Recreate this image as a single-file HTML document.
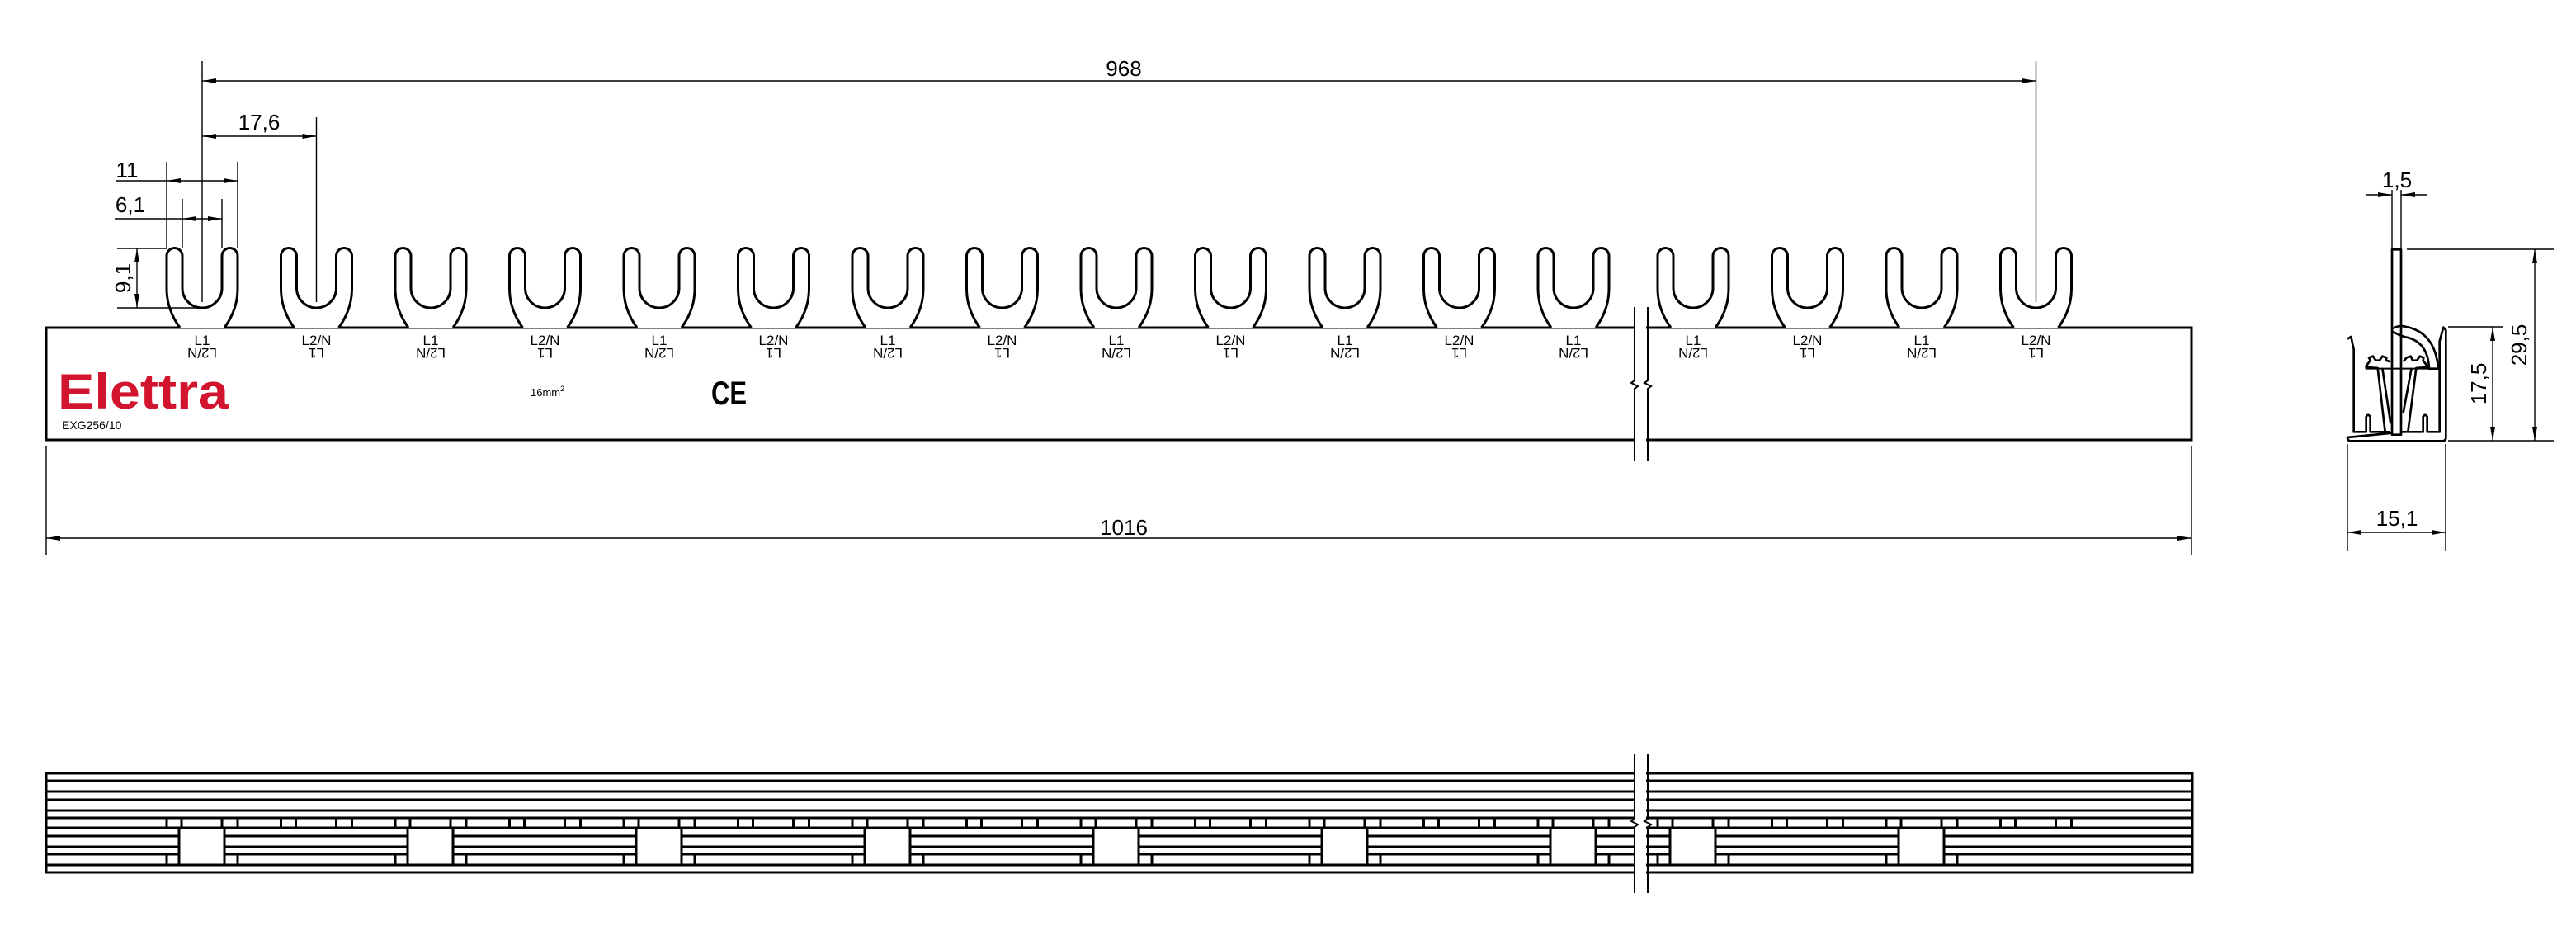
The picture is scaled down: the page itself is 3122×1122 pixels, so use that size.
<!DOCTYPE html>
<html><head><meta charset="utf-8"><style>
html,body{margin:0;padding:0;background:#fff;}
svg{display:block;}
text{font-family:"Liberation Sans",sans-serif;fill:#000;}
</style></head><body>
<svg width="3122" height="1122" viewBox="0 0 3122 1122" xmlns="http://www.w3.org/2000/svg">
<defs>
<marker id="ar" markerUnits="userSpaceOnUse" markerWidth="18" markerHeight="8" refX="17" refY="3" orient="auto-start-reverse"><path d="M0,0 L17,3 L0,6 z" fill="#000"/></marker>
<path id="fork" d="M-27,397 Q-43,375 -43,350 L-43,310 A9.5 9.5 0 0 1 -24,310 L-24,349 A24 24 0 0 0 24,349 L24,310 A9.5 9.5 0 0 1 43,310 L43,350 Q43,375 27,397" fill="#fff" stroke="#000" stroke-width="3"/>
<g id="tab" stroke="#000" stroke-width="3"><line x1="-43" y1="991" x2="-43" y2="1003"/><line x1="-25" y1="991" x2="-25" y2="1003"/><line x1="24" y1="991" x2="24" y2="1003"/><line x1="43" y1="991" x2="43" y2="1003"/></g>
<g id="win"><rect x="-28" y="1003" width="55" height="45" fill="#fff" stroke="#000" stroke-width="3"/><line x1="-43" y1="1035" x2="-43" y2="1048" stroke="#000" stroke-width="3"/><line x1="43" y1="1035" x2="43" y2="1048" stroke="#000" stroke-width="3"/></g>
</defs>

<!-- top bar -->
<rect x="56" y="397" width="2600" height="136" fill="none" stroke="#000" stroke-width="3"/>
<g>
<use href="#fork" x="245"/><use href="#fork" x="383.5"/><use href="#fork" x="522"/><use href="#fork" x="660.5"/><use href="#fork" x="799"/><use href="#fork" x="937.5"/><use href="#fork" x="1076"/><use href="#fork" x="1214.5"/><use href="#fork" x="1353"/><use href="#fork" x="1491.5"/><use href="#fork" x="1630"/><use href="#fork" x="1768.5"/><use href="#fork" x="1907"/><use href="#fork" x="2052"/><use href="#fork" x="2190.5"/><use href="#fork" x="2329"/><use href="#fork" x="2467.5"/>
</g>
<!-- break top -->
<rect x="1982" y="380" width="13" height="170" fill="#fff"/>
<path d="M1981,372 L1981,461 L1977,464 L1985,468 L1981,471 L1981,559 M1997,372 L1997,461 L1993,464 L2001,468 L1997,471 L1997,559" fill="none" stroke="#000" stroke-width="2"/>

<!-- labels -->
<g font-size="17" text-anchor="middle">
<text x="245" y="418">L1</text><text x="383.5" y="418">L2/N</text><text x="522" y="418">L1</text><text x="660.5" y="418">L2/N</text><text x="799" y="418">L1</text><text x="937.5" y="418">L2/N</text><text x="1076" y="418">L1</text><text x="1214.5" y="418">L2/N</text><text x="1353" y="418">L1</text><text x="1491.5" y="418">L2/N</text><text x="1630" y="418">L1</text><text x="1768.5" y="418">L2/N</text><text x="1907" y="418">L1</text><text x="2052" y="418">L1</text><text x="2190.5" y="418">L2/N</text><text x="2329" y="418">L1</text><text x="2467.5" y="418">L2/N</text>
<text transform="translate(245,428) rotate(180)" y="6">L2/N</text><text transform="translate(383.5,428) rotate(180)" y="6">L1</text><text transform="translate(522,428) rotate(180)" y="6">L2/N</text><text transform="translate(660.5,428) rotate(180)" y="6">L1</text><text transform="translate(799,428) rotate(180)" y="6">L2/N</text><text transform="translate(937.5,428) rotate(180)" y="6">L1</text><text transform="translate(1076,428) rotate(180)" y="6">L2/N</text><text transform="translate(1214.5,428) rotate(180)" y="6">L1</text><text transform="translate(1353,428) rotate(180)" y="6">L2/N</text><text transform="translate(1491.5,428) rotate(180)" y="6">L1</text><text transform="translate(1630,428) rotate(180)" y="6">L2/N</text><text transform="translate(1768.5,428) rotate(180)" y="6">L1</text><text transform="translate(1907,428) rotate(180)" y="6">L2/N</text><text transform="translate(2052,428) rotate(180)" y="6">L2/N</text><text transform="translate(2190.5,428) rotate(180)" y="6">L1</text><text transform="translate(2329,428) rotate(180)" y="6">L2/N</text><text transform="translate(2467.5,428) rotate(180)" y="6">L1</text>
</g>
<text x="70" y="495" font-size="60" font-weight="bold" textLength="207" lengthAdjust="spacingAndGlyphs" style="fill:#d2142e">Elettra</text>
<text x="75" y="520" font-size="14">EXG256/10</text>
<text x="643" y="480" font-size="13">16mm<tspan dy="-6" font-size="9">2</tspan></text>
<text x="862" y="490" font-size="40" font-weight="bold" textLength="43" lengthAdjust="spacingAndGlyphs">CE</text>

<!-- dimensions top -->
<g stroke="#000" stroke-width="1.4" fill="none">
<line x1="245" y1="74" x2="245" y2="366"/><line x1="2467.5" y1="74" x2="2467.5" y2="366"/>
<line x1="245" y1="98" x2="2467.5" y2="98" marker-start="url(#ar)" marker-end="url(#ar)"/>
<line x1="383.5" y1="142" x2="383.5" y2="366"/>
<line x1="245" y1="165" x2="383.5" y2="165" marker-start="url(#ar)" marker-end="url(#ar)"/>
<line x1="202" y1="196" x2="202" y2="301"/><line x1="288" y1="196" x2="288" y2="301"/>
<line x1="141" y1="219" x2="202" y2="219"/>
<line x1="202" y1="219" x2="288" y2="219" marker-start="url(#ar)" marker-end="url(#ar)"/>
<line x1="221" y1="241" x2="221" y2="301"/><line x1="269" y1="241" x2="269" y2="301"/>
<line x1="139" y1="265" x2="221" y2="265"/>
<line x1="221" y1="265" x2="269" y2="265" marker-start="url(#ar)" marker-end="url(#ar)"/>
<line x1="142" y1="301" x2="202" y2="301"/><line x1="142" y1="373" x2="245" y2="373"/>
<line x1="166" y1="301" x2="166" y2="373" marker-start="url(#ar)" marker-end="url(#ar)"/>
<line x1="56" y1="540" x2="56" y2="672"/><line x1="2656" y1="540" x2="2656" y2="672"/>
<line x1="56" y1="652" x2="2656" y2="652" marker-start="url(#ar)" marker-end="url(#ar)"/>
</g>
<g font-size="26" text-anchor="middle">
<text x="1362" y="92">968</text>
<text x="314" y="157">17,6</text>
<text x="154" y="215">11</text>
<text x="158" y="257">6,1</text>
<text transform="translate(158,337) rotate(-90)">9,1</text>
<text x="1362" y="648">1016</text>
</g>

<!-- bottom view -->
<g stroke="#000" stroke-width="3" fill="none">
<rect x="56" y="937" width="2601" height="120"/>
<path d="M56,946H2657 M56,959H2657 M56,969H2657 M56,982H2657 M56,991H2657 M56,1003H2657 M56,1013H2657 M56,1026H2657 M56,1035H2657 M56,1048H2657"/>
</g>
<use href="#tab" x="245"/><use href="#tab" x="383.5"/><use href="#tab" x="522"/><use href="#tab" x="660.5"/><use href="#tab" x="799"/><use href="#tab" x="937.5"/><use href="#tab" x="1076"/><use href="#tab" x="1214.5"/><use href="#tab" x="1353"/><use href="#tab" x="1491.5"/><use href="#tab" x="1630"/><use href="#tab" x="1768.5"/><use href="#tab" x="1907"/><use href="#tab" x="2052"/><use href="#tab" x="2190.5"/><use href="#tab" x="2329"/><use href="#tab" x="2467.5"/>
<use href="#win" x="245"/><use href="#win" x="522"/><use href="#win" x="799"/><use href="#win" x="1076"/><use href="#win" x="1353"/><use href="#win" x="1630"/><use href="#win" x="1907"/><use href="#win" x="2052"/><use href="#win" x="2329"/>
<rect x="1982" y="920" width="13" height="150" fill="#fff"/>
<path d="M1981,913 L1981,992 L1977,995 L1985,999 L1981,1002 L1981,1082 M1997,913 L1997,992 L1993,995 L2001,999 L1997,1002 L1997,1082" fill="none" stroke="#000" stroke-width="2"/>

<!-- side view -->
<g transform="translate(2800,180) scale(0.33333)" fill="none" stroke="#000" stroke-width="8" stroke-linejoin="round">
<path d="M135,692 L148,684 L158,730 L158,1030 L203,1030 L203,975 Q210,962 218,975 L218,1030 L290,1030 M338,1030 L410,1030 L410,975 Q418,962 425,975 L425,1030 L470,1030 L470,700 L484,650 L493,660 L493,1050 Q493,1063 480,1063 L148,1063 Q135,1063 135,1050 Z"/>
<rect x="297" y="367" width="33" height="673" fill="#fff"/>
<path d="M300,655 Q320,640 350,648 Q455,670 465,800 L432,800 Q428,700 345,685 Q320,678 300,665"/>
<path d="M200,795 L218,770 L213,760 L228,755 L238,770 L252,770 L262,755 L277,760 L275,770 L292,775 M200,795 L245,798 L272,1030 M262,798 L292,1000"/>
<path d="M338,775 L350,760 L365,755 L372,770 L388,770 L398,755 L412,760 L410,770 L428,795 L385,798 L355,1030 M368,798 L338,960"/>
<line x1="200" y1="800" x2="465" y2="800" stroke-width="6"/>
</g>
<g stroke="#000" stroke-width="1.4" fill="none">
<line x1="2899" y1="230" x2="2899" y2="302"/><line x1="2910" y1="230" x2="2910" y2="302"/>
<line x1="2867" y1="236" x2="2899" y2="236" marker-end="url(#ar)"/>
<line x1="2942" y1="236" x2="2910" y2="236" marker-end="url(#ar)"/>
<line x1="2917" y1="302" x2="3095" y2="302"/><line x1="2967" y1="534" x2="3095" y2="534"/>
<line x1="3072" y1="302" x2="3072" y2="534" marker-start="url(#ar)" marker-end="url(#ar)"/>
<line x1="2967" y1="396" x2="3033" y2="396"/>
<line x1="3021" y1="396" x2="3021" y2="534" marker-start="url(#ar)" marker-end="url(#ar)"/>
<line x1="2845" y1="538" x2="2845" y2="668"/><line x1="2964" y1="538" x2="2964" y2="668"/>
<line x1="2845" y1="645" x2="2964" y2="645" marker-start="url(#ar)" marker-end="url(#ar)"/>
</g>
<g font-size="26" text-anchor="middle">
<text x="2905" y="227">1,5</text>
<text transform="translate(3062,418) rotate(-90)">29,5</text>
<text transform="translate(3013,465) rotate(-90)">17,5</text>
<text x="2905" y="637">15,1</text>
</g>
</svg>
</body></html>
